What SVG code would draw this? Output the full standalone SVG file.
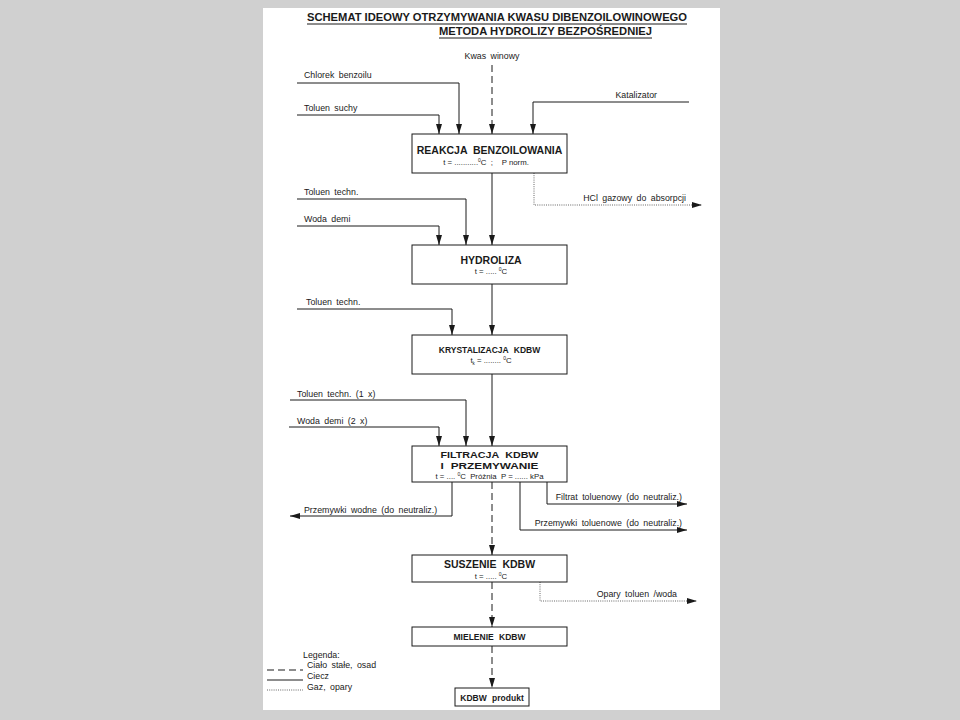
<svg xmlns="http://www.w3.org/2000/svg" width="960" height="720" viewBox="0 0 960 720">
<style>
text{font-family:"Liberation Sans",Arial,sans-serif;fill:#1a1a1a}
.lb{font-size:8.8px;word-spacing:2px}
.bt{font-weight:bold;text-anchor:middle;word-spacing:3px}
.sub{font-size:7.8px;text-anchor:middle;white-space:pre}
.box{fill:#fff;stroke:#1a1a1a;stroke-width:1}
.s{fill:none;stroke:#1a1a1a;stroke-width:1}
.d{fill:none;stroke:#1a1a1a;stroke-width:1;stroke-dasharray:7 4}
.g{fill:none;stroke:#555;stroke-width:0.9;stroke-dasharray:1 1.2}
</style>
<defs>
<marker id="a" viewBox="0 0 10 6" refX="10" refY="3" markerWidth="10" markerHeight="6" markerUnits="userSpaceOnUse" orient="auto">
<path d="M0,0 L10,3 L0,6 z" fill="#1a1a1a"/>
</marker>
</defs>
<rect x="0" y="0" width="960" height="720" fill="#d0d0d0"/>
<rect x="263" y="8" width="457" height="702" fill="#fff"/>
<g id="title">
<text x="307" y="21" font-size="11" font-weight="bold" textLength="380" lengthAdjust="spacingAndGlyphs">SCHEMAT IDEOWY OTRZYMYWANIA KWASU DIBENZOILOWINOWEGO</text>
<line x1="307" y1="24" x2="687" y2="24" class="s"/>
<text x="439" y="35" font-size="11" font-weight="bold" textLength="213" lengthAdjust="spacingAndGlyphs">METODA HYDROLIZY BEZPOŚREDNIEJ</text>
<line x1="439" y1="38" x2="652" y2="38" class="s"/>
</g>
<g id="connectors">
<line x1="492" y1="65" x2="492" y2="134" class="d" marker-end="url(#a)"/>
<line x1="492" y1="173" x2="492" y2="245" class="s" marker-end="url(#a)"/>
<line x1="492" y1="284" x2="492" y2="335" class="s" marker-end="url(#a)"/>
<line x1="492" y1="374" x2="492" y2="446" class="s" marker-end="url(#a)"/>
<line x1="492" y1="482" x2="492" y2="555" class="d" marker-end="url(#a)"/>
<line x1="492" y1="582" x2="492" y2="627" class="d" marker-end="url(#a)"/>
<line x1="492" y1="646" x2="492" y2="688" class="d" marker-end="url(#a)"/>
<polyline points="297,83 459,83 459,134" class="s" marker-end="url(#a)"/>
<polyline points="297,115 439,115 439,134" class="s" marker-end="url(#a)"/>
<polyline points="689,102 533,102 533,134" class="s" marker-end="url(#a)"/>
<polyline points="534,173 534,205 702,205" class="g" marker-end="url(#a)"/>
<polyline points="297,199 466,199 466,245" class="s" marker-end="url(#a)"/>
<polyline points="297,226 439,226 439,245" class="s" marker-end="url(#a)"/>
<polyline points="297,309 452,309 452,335" class="s" marker-end="url(#a)"/>
<polyline points="290,400 466,400 466,446" class="s" marker-end="url(#a)"/>
<polyline points="289,427 439,427 439,446" class="s" marker-end="url(#a)"/>
<polyline points="452,482 452,516 290,516" class="s" marker-end="url(#a)"/>
<polyline points="520,482 520,530 687,530" class="s" marker-end="url(#a)"/>
<polyline points="547,482 547,504 687,504" class="s" marker-end="url(#a)"/>
<polyline points="540,582 540,601 697,601" class="g" marker-end="url(#a)"/>
</g>
<g id="labels">
<text x="492" y="59" class="lb" text-anchor="middle">Kwas winowy</text>
<text x="304" y="78" class="lb">Chlorek benzoilu</text>
<text x="304" y="111" class="lb">Toluen suchy</text>
<text x="657" y="98" class="lb" text-anchor="end">Katalizator</text>
<text x="686" y="201" class="lb" text-anchor="end">HCl gazowy do absorpcji</text>
<text x="304" y="195" class="lb">Toluen techn.</text>
<text x="304" y="222" class="lb">Woda demi</text>
<text x="306" y="305" class="lb">Toluen techn.</text>
<text x="297" y="397" class="lb">Toluen techn. (1 x)</text>
<text x="297" y="424" class="lb">Woda demi (2 x)</text>
<text x="304" y="513" class="lb">Przemywki wodne (do neutraliz.)</text>
<text x="682" y="500" class="lb" text-anchor="end">Filtrat toluenowy (do neutraliz.)</text>
<text x="682" y="526" class="lb" text-anchor="end">Przemywki toluenowe (do neutraliz.)</text>
<text x="677" y="597" class="lb" text-anchor="end">Opary toluen /woda</text>
</g>
<g id="n1">
<rect x="412" y="134" width="155" height="39" class="box"/>
<text x="489.5" y="154" class="bt" font-size="10.5">REAKCJA BENZOILOWANIA</text>
<text x="486" y="165" class="sub" xml:space="preserve">t = ...........<tspan font-size="5" dy="-3">0</tspan><tspan dy="3">C  ;    P norm.</tspan></text>
</g>
<g id="n2">
<rect x="412" y="245" width="155" height="39" class="box"/>
<text x="491" y="264" class="bt" font-size="10.5">HYDROLIZA</text>
<text x="491" y="274" class="sub" xml:space="preserve">t = ..... <tspan font-size="5" dy="-3">0</tspan><tspan dy="3">C</tspan></text>
</g>
<g id="n3">
<rect x="412" y="335" width="155" height="39" class="box"/>
<text x="489.5" y="353" class="bt" font-size="8.5">KRYSTALIZACJA KDBW</text>
<text x="491" y="363" class="sub" xml:space="preserve">t<tspan font-size="4.5" dy="1.5">k</tspan><tspan dy="-1.5"> = ........ </tspan><tspan font-size="5" dy="-3">0</tspan><tspan dy="3">C</tspan></text>
</g>
<g id="n4">
<rect x="412" y="446" width="155" height="36" class="box"/>
<text x="489.5" y="457.5" class="bt" font-size="9.8" textLength="98" lengthAdjust="spacingAndGlyphs">FILTRACJA KDBW</text>
<text x="489.5" y="468.5" class="bt" font-size="9.8" textLength="98" lengthAdjust="spacingAndGlyphs">I PRZEMYWANIE</text>
<text x="489.5" y="479" class="sub" xml:space="preserve">t = .... <tspan font-size="5" dy="-3">0</tspan><tspan dy="3">C  Próżnia  P = ...... kPa</tspan></text>
</g>
<g id="n5">
<rect x="412" y="555" width="155" height="27" class="box"/>
<text x="489.5" y="568" class="bt" font-size="10.5">SUSZENIE KDBW</text>
<text x="491" y="578.5" class="sub" xml:space="preserve">t = ..... <tspan font-size="5" dy="-3">0</tspan><tspan dy="3">C</tspan></text>
</g>
<g id="n6">
<rect x="412" y="627" width="155" height="19" class="box"/>
<text x="489.5" y="640" class="bt" font-size="8.5">MIELENIE KDBW</text>
</g>
<g id="n7">
<rect x="455" y="688" width="74" height="18" class="box"/>
<text x="492" y="700.5" class="bt" font-size="8.5">KDBW produkt</text>
</g>
<g id="legend">
<text x="303" y="658" class="lb">Legenda:</text>
<line x1="267" y1="670" x2="303" y2="670" class="d" stroke-dasharray="9 3"/>
<text x="307" y="668" class="lb" word-spacing="0">Ciało stałe, osad</text>
<line x1="267" y1="680" x2="303" y2="680" class="s" stroke-width="1.3"/>
<text x="307" y="679" class="lb">Ciecz</text>
<line x1="267" y1="690" x2="303" y2="690" class="g"/>
<text x="307" y="690" class="lb" word-spacing="0">Gaz, opary</text>
</g>
</svg>
